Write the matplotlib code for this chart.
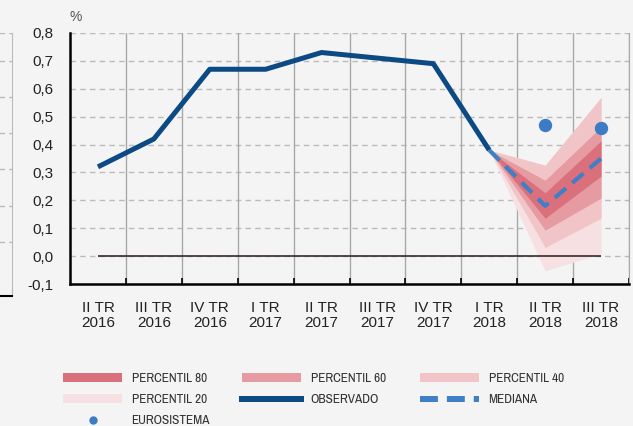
import numpy as np
import matplotlib
matplotlib.use("Agg")
import matplotlib.pyplot as plt
from matplotlib.patches import Patch
from matplotlib.lines import Line2D
from matplotlib import font_manager

# --------------------------------------------------------------
# データ
# --------------------------------------------------------------
quarters = ["II TR\n2016", "III TR\n2016", "IV TR\n2016", "I TR\n2017", "II TR\n2017",
            "III TR\n2017", "IV TR\n2017", "I TR\n2018", "II TR\n2018", "III TR\n2018"]
observado = [0.32, 0.42, 0.67, 0.67, 0.73, 0.71, 0.69, 0.38]

fan_idx = [7, 8, 9]
mediana = [0.38, 0.18, 0.35]
p20_lo = [0.38, -0.053, 0.01]
p40_lo = [0.38, 0.031, 0.136]
p60_lo = [0.38, 0.093, 0.208]
p80_lo = [0.38, 0.136, 0.287]
p80_hi = [0.38, 0.227, 0.413]
p60_hi = [0.38, 0.272, 0.463]
p40_hi = [0.38, 0.326, 0.569]

euro_idx = [8, 9]
eurosistema = [0.47, 0.46]

yticks = [-0.1, 0.0, 0.1, 0.2, 0.3, 0.4, 0.5, 0.6, 0.7, 0.8]

# colores
BG = "#f4f4f4"
C80, C60, C40, C20 = "#d9707b", "#e69aa1", "#f1c4c7", "#f7e0e1"
C_OBS, C_MED = "#0b4a85", "#3f7fc6"


def is_regular(f):
    return f.style == "normal" and f.weight in (400, "normal", "regular")


# fuente estrecha para la leyenda (si hay alguna instalada)
narrow_prop = None
for f in font_manager.fontManager.ttflist:
    if "Narrow" in f.name and is_regular(f):
        narrow_prop = font_manager.FontProperties(fname=f.fname, size=9.5)
        break
if narrow_prop is None:
    for f in font_manager.fontManager.ttflist:
        if f.stretch == "condensed" and is_regular(f):
            narrow_prop = font_manager.FontProperties(fname=f.fname, size=9.5)
            break
if narrow_prop is None:
    narrow_prop = font_manager.FontProperties(family="Liberation Sans", size=8.5)

plt.rcParams["font.family"] = ["Liberation Sans", "DejaVu Sans"]

W, H = 633, 426
fig = plt.figure(figsize=(W / 100, H / 100), dpi=100, facecolor=BG)

# --- panel izquierdo recortado (otro gráfico) ---
axl = fig.add_axes([-30 / W, 1 - 296 / H, 42 / W, 263 / H], facecolor=BG)
axl.set_xlim(0, 1)
axl.set_ylim(-1.49, 5.76)
for yy in [0, 1, 2, 3, 4, 5, 5.76]:
    axl.axhline(yy, color="#bbbbbb", lw=1, ls=(0, (4, 3)))
axl.set_xticks([]); axl.set_yticks([])
for s in ["left", "top"]:
    axl.spines[s].set_visible(False)
axl.spines["right"].set_color("#bbbbbb")
axl.spines["bottom"].set_color("black")
axl.spines["bottom"].set_linewidth(1.5)

# --- gráfico principal ---
ax = fig.add_axes([70 / W, 1 - 284 / H, 559 / W, 251 / H], facecolor=BG)
x = np.arange(len(quarters))

ax.hlines(0, 0, len(quarters) - 1, color="#3a2a2a", lw=1.2, zorder=3)

ax.fill_between(fan_idx, p20_lo, p40_hi, color=C20, lw=0, zorder=2)
ax.fill_between(fan_idx, p40_lo, p40_hi, color=C40, lw=0, zorder=2)
ax.fill_between(fan_idx, p60_lo, p60_hi, color=C60, lw=0, zorder=2)
ax.fill_between(fan_idx, p80_lo, p80_hi, color=C80, lw=0, zorder=2)

ax.plot(x[:len(observado)], observado, color=C_OBS, lw=3.6, zorder=4,
        solid_capstyle="butt")
ax.plot(fan_idx, mediana, color=C_MED, lw=3.0, ls=(0, (3.5, 2)), zorder=5)
ax.plot(euro_idx, eurosistema, "o", color="#3b7cc4", ms=8.6, zorder=6)

ax.set_xlim(-0.5, len(quarters) - 0.5)
ax.set_ylim(-0.1, 0.8)

ax.set_yticks(yticks)
ax.set_yticklabels([f"{v:.1f}".replace(".", ",") for v in yticks])
ax.tick_params(axis="y", length=0, pad=12, labelsize=11, labelcolor="#222222")

ax.set_xticks(x)
ax.set_xticklabels(quarters, linespacing=1.1)
ax.tick_params(axis="x", which="major", length=0, pad=12, labelsize=11,
               labelcolor="#222222")
ax.set_xticks(np.arange(0.5, len(quarters), 1.0), minor=True)
ax.tick_params(axis="x", which="minor", direction="in", length=4, width=1.2,
               color="black")

for v in yticks[1:]:
    ax.axhline(v, color="#bbbbbb", lw=1, ls=(0, (4, 3)), zorder=1)
for b in np.arange(0.5, len(quarters), 1.0):
    ax.axvline(b, color="#a8a8a8", lw=1, zorder=1)

ax.spines["top"].set_visible(False)
ax.spines["right"].set_color("#a8a8a8")
ax.spines["left"].set_linewidth(1.8)
ax.spines["bottom"].set_linewidth(1.8)

fig.text(70 / W, 1 - 17 / H, "%", fontsize=10, color="#555555", va="center", ha="left")

# --- leyenda ---
h80 = Patch(color=C80, lw=0)
h60 = Patch(color=C60, lw=0)
h40 = Patch(color=C40, lw=0)
h20 = Patch(color=C20, lw=0)
hobs = Line2D([], [], color=C_OBS, lw=4.3)
hmed = Line2D([], [], color=C_MED, lw=4.3, ls=(0, (3, 1.5)))
heur = Line2D([], [], color="#3b7cc4", marker="o", ls="", ms=5)

cols = [
    ([h80, h20, heur], ["PERCENTIL 80", "PERCENTIL 20", "EUROSISTEMA"], 63),
    ([h60, hobs], ["PERCENTIL 60", "OBSERVADO"], 242),
    ([h40, hmed], ["PERCENTIL 40", "MEDIANA"], 420),
]
for hs, ls_, xpx in cols:
    leg = fig.legend(hs, ls_, loc="upper left", bbox_to_anchor=(xpx / W, 1 - 373 / H),
                     frameon=False, borderpad=0, borderaxespad=0,
                     handlelength=4.5, handletextpad=0.7, labelspacing=0.74,
                     prop=narrow_prop)
    for t in leg.get_texts():
        t.set_color("#333333")

fig.savefig("out.png", dpi=100, facecolor=BG)
